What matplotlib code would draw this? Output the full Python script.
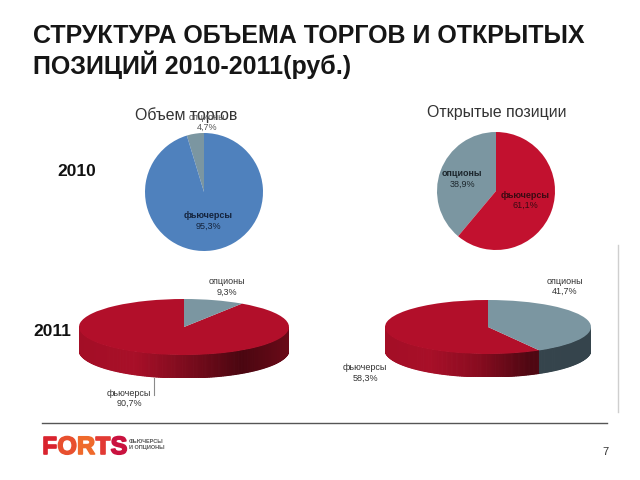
import numpy as np
import matplotlib
matplotlib.use("Agg")
import matplotlib.pyplot as plt
import matplotlib.patheffects as pe
from matplotlib.colors import LinearSegmentedColormap

plt.rcParams['font.family'] = ['Liberation Sans', 'DejaVu Sans']

# shares, percent, options first
volume_2010 = [4.7, 95.3]
positions_2010 = [38.9, 61.1]
volume_2011 = [9.3, 90.7]
positions_2011 = [41.7, 58.3]

title_lines = ["СТРУКТУРА ОБЪЕМА ТОРГОВ И ОТКРЫТЫХ", "ПОЗИЦИЙ 2010-2011(руб.)"]
logo_letters = ["F", "O", "R", "T", "S"]
logo_colors = ["#d9232e", "#e8502f", "#ef6a2c", "#e23a34", "#c9123f"]

BLUE = "#4f81bd"
GREY = "#7b96a1"
RED = "#b20f2a"
W, H = 640, 480

fig = plt.figure(figsize=(6.4, 4.8), dpi=100, facecolor="white")


def px_axes(x0, y0, x1, y1):
    # axes from pixel box, y counted from the top of the picture
    return fig.add_axes([x0 / W, 1 - y1 / H, (x1 - x0) / W, (y1 - y0) / H])


def flat_pie(cx, cy, r, values, colors):
    ax = px_axes(cx - r, cy - r, cx + r, cy + r)
    ax.pie(values, colors=colors, startangle=90, counterclock=True, radius=1)
    ax.set_xlim(-1, 1)
    ax.set_ylim(-1, 1)


def tilted_pie(cx, cy, rx, ry, depth, values, side_stops):
    # values = options, futures; options run clockwise from 12 o'clock
    d = depth / ry
    ax = px_axes(cx - rx, cy - ry, cx + rx, cy + ry + depth)
    red_side = LinearSegmentedColormap.from_list("side", side_stops)
    split = 360 + 90 - values[0] * 3.6
    for a in np.arange(180, 360, 1.0):
        t = np.radians([a, a + 1.0])
        xs = np.cos(t)
        ys = np.sin(t)
        color = "#35444c" if a > split else red_side((xs.mean() + 1) / 2)
        ax.fill([xs[0], xs[1], xs[1], xs[0]],
                [ys[0], ys[1], ys[1] - d, ys[0] - d], fc=color, ec=color, lw=0.8)
    ax.pie(values[::-1], colors=[RED, GREY], startangle=90,
           counterclock=True, radius=1)
    ax.set_aspect("auto")
    ax.set_xlim(-1, 1)
    ax.set_ylim(-1 - d, 1)


flat_pie(204, 192, 59, volume_2010, [GREY, BLUE])
flat_pie(496, 191, 59, positions_2010, [GREY, "#c2112f"])

tilted_pie(184, 327, 105, 28, 23, volume_2011,
           [(0, "#a30e26"), (0.27, "#a80f28"), (0.5, "#7f0c1e"), (0.78, "#4a0610"), (1, "#6a0a18")])
tilted_pie(488, 327, 103, 27, 23, positions_2011,
           [(0, "#a30e26"), (0.22, "#a80f28"), (0.45, "#8a0c20"), (0.7, "#4f0712"), (1, "#4f0712")])

# overlay in picture pixels for text and rules
ov = fig.add_axes([0, 0, 1, 1], zorder=10)
ov.set_xlim(0, W)
ov.set_ylim(H, 0)
ov.axis("off")
ov.patch.set_alpha(0)

ov.text(33, 36, title_lines[0], fontsize=18, fontweight="bold", color="#161616", va="center")
ov.text(33, 65, title_lines[1], fontsize=18, fontweight="bold", color="#161616", va="center")

ov.text(186, 115, "Объем торгов", fontsize=11.4, color="#333333", ha="center", va="center")
ov.text(497, 112, "Открытые позиции", fontsize=11.4, color="#333333", ha="center", va="center")
ov.text(57, 172, "2010", fontsize=12.5, fontweight="bold", color="#111111", va="center")
ov.text(33, 332, "2011", fontsize=12.5, fontweight="bold", color="#111111", va="center")


def label(x, y, name, value, size=6.5, bold=False, color="#333333"):
    ov.text(x, y, name, fontsize=size, color=color, ha="center", va="center",
            fontweight="bold" if bold else "normal")
    ov.text(x, y + 10.5, value, fontsize=size, color=color, ha="center", va="center")


label(207, 117, "опционы", "4,7%", color="#555555")
label(208, 216, "фьючерсы", "95,3%", bold=True, color="#14233c")
label(462, 174, "опционы", "38,9%", bold=True, color="#1c262c")
label(525, 195, "фьючерсы", "61,1%", bold=True, color="#3a0a12")
label(227, 282, "опционы", "9,3%")
label(129, 393, "фьючерсы", "90,7%")
label(565, 281, "опционы", "41,7%")
label(365, 368, "фьючерсы", "58,3%")

ov.plot([154, 154], [378, 395], color="#8a8a8a", lw=0.8)
ov.plot([618, 618], [245, 412], color="#cfcfcf", lw=1)
ov.plot([42, 607], [423, 423], color="#555555", lw=1)

# logo
x = 42
for letter, color in zip(logo_letters, logo_colors):
    t = ov.text(x, 447, letter, fontsize=18, fontweight="bold", color=color, va="center",
                path_effects=[pe.withStroke(linewidth=1.2, foreground=color)])
    fig.canvas.draw()
    box = t.get_window_extent().transformed(ov.transData.inverted())
    x = box.x1 + 0.2
ov.text(129, 441.5, "ФЬЮЧЕРСЫ", fontsize=4, fontweight="bold", color="#555555", va="center")
ov.text(129, 447, "И ОПЦИОНЫ", fontsize=4, fontweight="bold", color="#555555", va="center")
ov.text(605, 452, "7", fontsize=8, color="#333333", ha="center", va="center")

fig.savefig("out.png", dpi=100)
plt.close(fig)
